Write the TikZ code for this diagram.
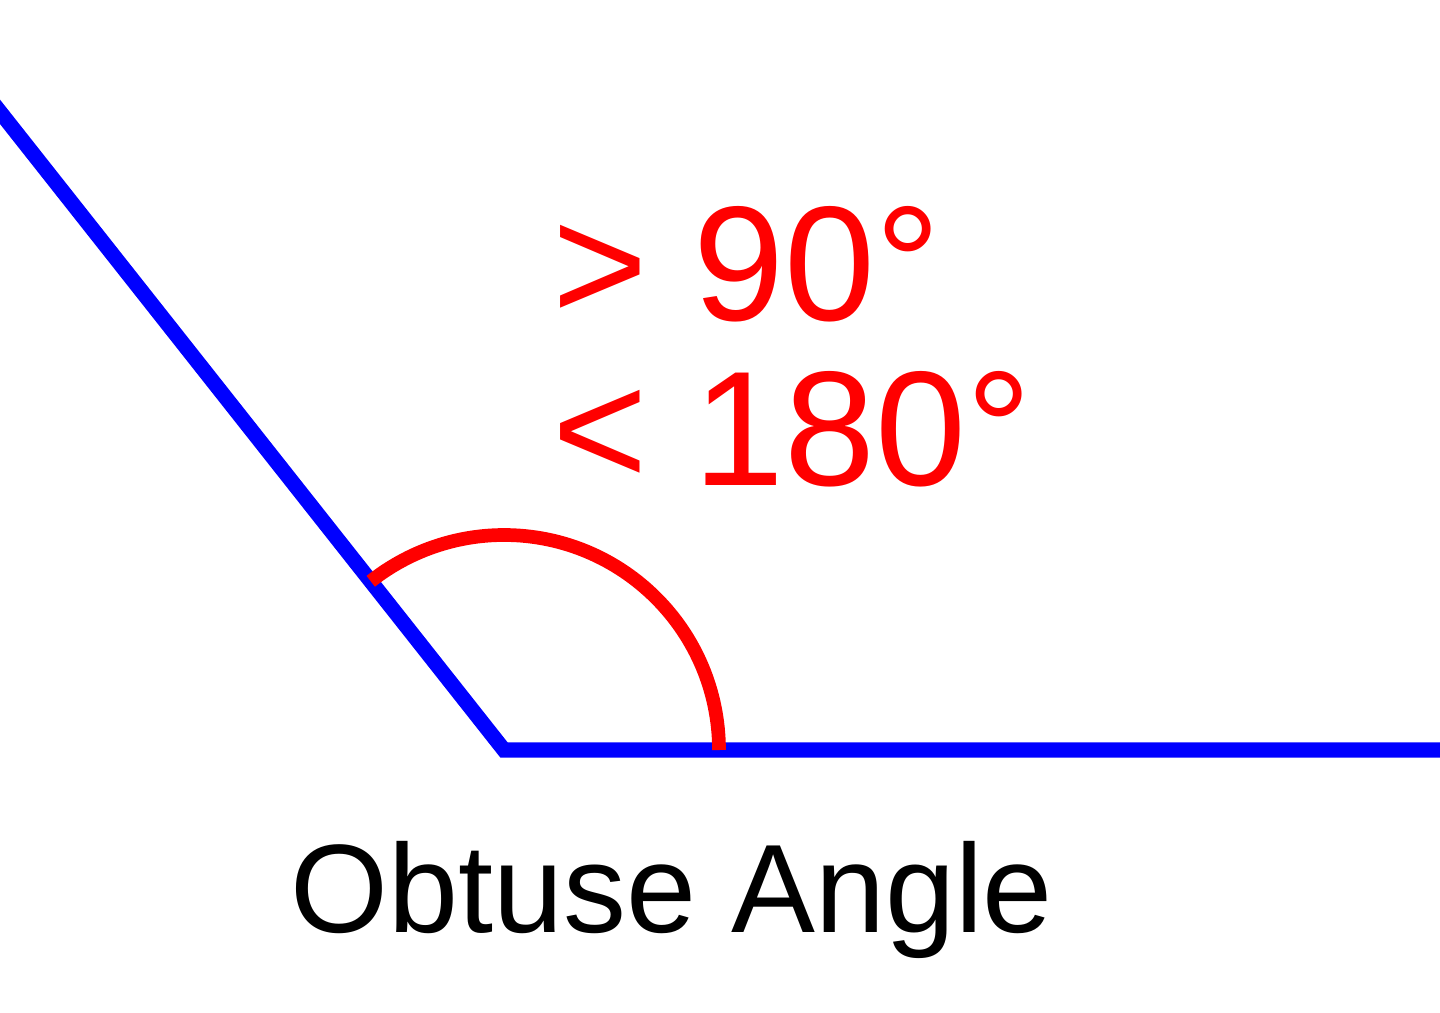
\documentclass[tikz,border=0pt]{standalone}
\usepackage{fontspec}
\setmainfont{Liberation Sans}
\usetikzlibrary{positioning,calc}
\tikzset{side/.style={draw=blue,line width=4.3pt},
  mark arc/.style={draw=red,line width=3.9pt},
  lbl/.style={anchor=base west,inner sep=0pt}}
\begin{document}
\begin{tikzpicture}
	\useasboundingbox (0,0) rectangle (14.4,10.12);
	\coordinate (v) at (5.04,2.62);
	\coordinate (e) at (14.45,2.62);
	\coordinate (t) at ($(v)+(128.3:10.6)$);
	\draw[side,line join=miter] (t) -- (v) -- (e);
	\draw[mark arc] ($(v)+(0:2.15)$) arc (0:128.3:2.15);
	\node[lbl,red,font=\fontsize{46.5}{56}\selectfont] (gt) at (5.52,6.92) {> 90°};
	\node[lbl,red,font=\fontsize{46.5}{56}\selectfont] (lt) at (5.52,5.27) {< 180°};
	\node[lbl,font=\fontsize{35.8}{42}\selectfont] (name) at (2.9,0.80) {Obtuse Angle};
\end{tikzpicture}
\end{document}
